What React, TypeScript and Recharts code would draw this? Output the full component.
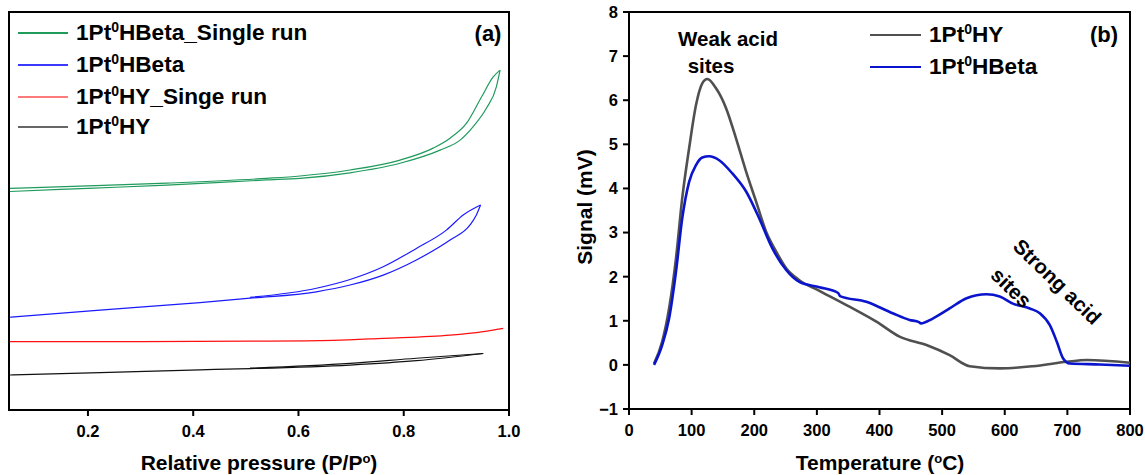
import React from "react"
import { LineChart, Line, XAxis, YAxis, ReferenceArea } from "recharts"

const FONT = "'Liberation Sans', Arial, Helvetica, sans-serif"

// ---- (a) N2 physisorption isotherms (arbitrary stacked units) ----
const pressureTicks = [0.2, 0.4, 0.6, 0.8, 1.0]

const greenAdsP = [0.052, 0.2, 0.35, 0.539, 0.603, 0.698, 0.793, 0.869, 0.907, 0.932, 0.957, 0.976, 0.983]
const greenAdsV = [54.9, 55.7, 56.5, 57.8, 58.2, 59.6, 62.0, 65.3, 67.8, 71.2, 75.8, 81.2, 85.4]
const greenDesP = [0.052, 0.2, 0.35, 0.539, 0.603, 0.698, 0.793, 0.856, 0.888, 0.919, 0.948, 0.97, 0.983]
const greenDesV = [55.7, 56.3, 57.0, 58.2, 58.8, 60.3, 62.8, 65.8, 68.3, 72.0, 78.7, 83.7, 85.4]

const blueAdsP = [0.052, 0.223, 0.413, 0.508, 0.634, 0.698, 0.761, 0.824, 0.888, 0.926, 0.938, 0.946]
const blueAdsV = [23.3, 25.1, 27.0, 28.1, 29.7, 31.4, 33.9, 37.7, 42.7, 46.5, 49.0, 51.5]
const blueDesP = [0.508, 0.634, 0.698, 0.761, 0.824, 0.881, 0.913, 0.946]
const blueDesV = [28.3, 30.6, 32.8, 36.0, 40.6, 45.2, 49.0, 51.5]

const redP = [0.052, 0.3, 0.508, 0.666, 0.761, 0.888, 0.951, 0.989]
const redV = [17.2, 17.2, 17.3, 17.5, 18.0, 18.8, 19.7, 20.5]

const blackAdsP = [0.052, 0.223, 0.413, 0.508, 0.698, 0.824, 0.951]
const blackAdsV = [8.8, 9.4, 10.1, 10.4, 11.3, 12.4, 14.2]
const blackDesP = [0.508, 0.698, 0.824, 0.951]
const blackDesV = [10.5, 11.7, 13.0, 14.2]

// ---- (b) NH3-TPD ----
const tempTicks = [0, 100, 200, 300, 400, 500, 600, 700, 800]
const signalTicks = [-1, 0, 1, 2, 3, 4, 5, 6, 7, 8]

const hyT = [40, 53, 64, 75, 85, 96, 107, 117, 125, 139, 155, 171, 187, 203, 219, 235, 251, 272, 304, 352, 395, 432, 475, 512, 544, 592, 645, 699, 731, 800]
const hyV = [0.03, 0.53, 1.28, 2.41, 3.78, 4.91, 5.89, 6.38, 6.48, 6.27, 5.82, 5.13, 4.38, 3.7, 3.02, 2.57, 2.19, 1.92, 1.68, 1.32, 0.98, 0.64, 0.45, 0.22, -0.03, -0.08, -0.03, 0.07, 0.11, 0.05]

const betaT = [40, 53, 64, 75, 85, 96, 107, 117, 128, 144, 165, 187, 208, 229, 251, 272, 304, 334, 337, 379, 421, 448, 463, 466, 485, 512, 539, 571, 592, 613, 640, 656, 672, 683, 693, 704, 752, 800]
const betaV = [0.0, 0.45, 1.05, 2.11, 3.32, 4.15, 4.53, 4.7, 4.73, 4.64, 4.34, 3.93, 3.32, 2.64, 2.15, 1.88, 1.76, 1.63, 1.56, 1.43, 1.17, 1.02, 0.97, 0.94, 1.05, 1.28, 1.51, 1.6, 1.55, 1.39, 1.28, 1.17, 0.9, 0.53, 0.15, 0.03, 0.01, -0.02]

const zip = (xs: number[], ys: number[], key: string) => xs.map((x, i) => ({ [key]: x, v: ys[i] }))

const GREEN = "#1f9b5c"
const BLUE_A = "#1a1aff"
const RED = "#ff1010"
const BLACK = "#111"
const GRAY = "#505050"
const BLUE_B = "#0a14cc"

const tickStyle = { fontSize: 16.5, fontWeight: 700, fill: "#000", fontFamily: FONT }

function Sup({ children }: { children: React.ReactNode }) {
  return <span style={{ fontSize: "0.62em", position: "relative", top: "-0.55em" }}>{children}</span>
}

function LegendRow({ x, y, len, color, width, children }: any) {
  return (
    <div style={{ position: "absolute", left: x, top: y - 12, height: 24, display: "flex", alignItems: "center", whiteSpace: "nowrap" }}>
      <div style={{ width: len, height: width, background: color, marginRight: 8, flex: "none" }} />
      <span style={{ fontSize: 22.6, fontWeight: 700, lineHeight: 1 }}>{children}</span>
    </div>
  )
}

function Txt({ x, y, size = 21, rotate = 0, children }: any) {
  return (
    <div style={{
      position: "absolute", left: x, top: y, whiteSpace: "nowrap", fontSize: size, fontWeight: 700, lineHeight: 1,
      transform: `translate(-50%, -50%) rotate(${rotate}deg)`,
    }}>{children}</div>
  )
}

export default function App() {
  return (
    <div style={{ position: "absolute", left: 0, top: 0, width: 1145, height: 475, background: "#fff", fontFamily: FONT, color: "#000", overflow: "hidden" }}>
      <div style={{ position: "absolute", left: 0, top: 0 }}>
        <LineChart width={540} height={475} margin={{ top: 12, right: 31, bottom: 0, left: 9 }}>
          <XAxis type="number" dataKey="p" domain={[0.05, 1]} ticks={pressureTicks} allowDataOverflow
                 tickFormatter={(v) => v.toFixed(1)} stroke="#000" strokeWidth={2} tickSize={6} tickMargin={9}
                 tick={tickStyle} height={65} />
          <YAxis type="number" domain={[0, 100]} hide />
          <ReferenceArea x1={0.05} x2={1} y1={0} y2={100} fill="none" stroke="#000" strokeWidth={2} />
          <Line data={zip(greenAdsP, greenAdsV, "p")} dataKey="v" stroke={GREEN} strokeWidth={1.2} dot={false} type="monotone" isAnimationActive={false} />
          <Line data={zip(greenDesP, greenDesV, "p")} dataKey="v" stroke={GREEN} strokeWidth={1.2} dot={false} type="monotone" isAnimationActive={false} />
          <Line data={zip(blueAdsP, blueAdsV, "p")} dataKey="v" stroke={BLUE_A} strokeWidth={1.2} dot={false} type="monotone" isAnimationActive={false} />
          <Line data={zip(blueDesP, blueDesV, "p")} dataKey="v" stroke={BLUE_A} strokeWidth={1.2} dot={false} type="monotone" isAnimationActive={false} />
          <Line data={zip(redP, redV, "p")} dataKey="v" stroke={RED} strokeWidth={1.2} dot={false} type="monotone" isAnimationActive={false} />
          <Line data={zip(blackAdsP, blackAdsV, "p")} dataKey="v" stroke={BLACK} strokeWidth={1.2} dot={false} type="monotone" isAnimationActive={false} />
          <Line data={zip(blackDesP, blackDesV, "p")} dataKey="v" stroke={BLACK} strokeWidth={1.2} dot={false} type="monotone" isAnimationActive={false} />
        </LineChart>
      </div>

      <div style={{ position: "absolute", left: 540, top: 0 }}>
        <LineChart width={605} height={475} margin={{ top: 12, right: 15, bottom: 0, left: 0 }}>
          <XAxis type="number" dataKey="t" domain={[0, 800]} ticks={tempTicks} allowDataOverflow
                 stroke="#000" strokeWidth={2} tickSize={6} tickMargin={9} tick={tickStyle} height={66} />
          <YAxis type="number" domain={[-1, 8]} ticks={signalTicks} allowDataOverflow width={89}
                 tickFormatter={(v) => (v < 0 ? `\u2212${Math.abs(v)}` : `${v}`)}
                 stroke="#000" strokeWidth={2} tickSize={6} tickMargin={5} tick={tickStyle} />
          <ReferenceArea x1={0} x2={800} y1={-1} y2={8} fill="none" stroke="#000" strokeWidth={2} />
          <Line data={zip(hyT, hyV, "t")} dataKey="v" stroke={GRAY} strokeWidth={2.6} dot={false} type="monotone" isAnimationActive={false} />
          <Line data={zip(betaT, betaV, "t")} dataKey="v" stroke={BLUE_B} strokeWidth={2.6} dot={false} type="monotone" isAnimationActive={false} />
        </LineChart>
      </div>

      {/* panel (a) legend and labels */}
      <LegendRow x={18} y={33} len={50} color={GREEN} width={1.5}>1Pt<Sup>0</Sup>HBeta_Single run</LegendRow>
      <LegendRow x={18} y={65} len={50} color="#3a3aff" width={1.5}>1Pt<Sup>0</Sup>HBeta</LegendRow>
      <LegendRow x={18} y={97} len={50} color="#ff7a7a" width={1.5}>1Pt<Sup>0</Sup>HY_Singe run</LegendRow>
      <LegendRow x={18} y={127} len={50} color="#666666" width={1.5}>1Pt<Sup>0</Sup>HY</LegendRow>
      <Txt x={488} y={34} size={22}>(a)</Txt>
      <Txt x={259} y={462}>Relative pressure (P/P<Sup>o</Sup>)</Txt>

      {/* panel (b) legend and labels */}
      <LegendRow x={870} y={35} len={51} color={GRAY} width={2.6}>1Pt<Sup>0</Sup>HY</LegendRow>
      <LegendRow x={870} y={67} len={51} color={BLUE_B} width={2.6}>1Pt<Sup>0</Sup>HBeta</LegendRow>
      <Txt x={1104} y={35} size={22}>(b)</Txt>
      <Txt x={728} y={39} size={20.5}>Weak acid</Txt>
      <Txt x={711} y={66} size={20.5}>sites</Txt>
      <Txt x={1057} y={282} size={20.5} rotate={44}>Strong acid</Txt>
      <Txt x={1011} y={288} size={20.5} rotate={44}>sites</Txt>
      <Txt x={880} y={462}>Temperature (<Sup>o</Sup>C)</Txt>
      <Txt x={584} y={207} rotate={-90}>Signal (mV)</Txt>
    </div>
  )
}
